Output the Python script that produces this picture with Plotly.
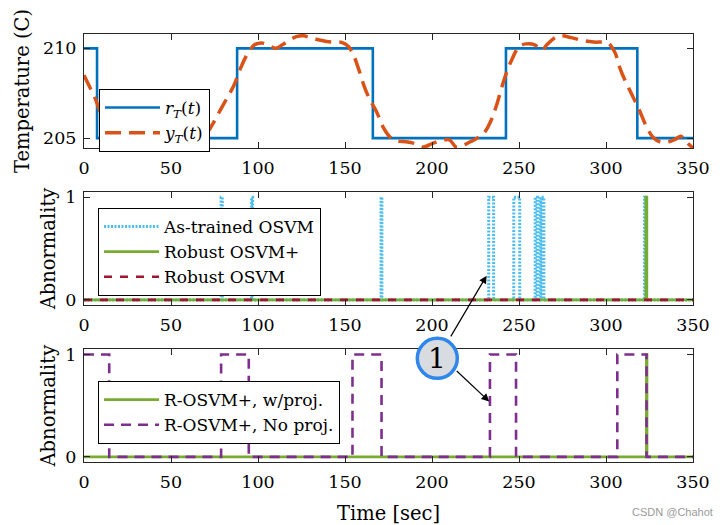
import plotly.graph_objects as go

# ---------------- data ----------------
t_ref = [0, 7.5, 88, 166, 242.5, 318, 350]
r_T = [210, 205, 210, 205, 210, 205, 205]

t_y = [0, 3, 6, 10, 14, 18, 22, 28, 35, 40, 45, 52, 58, 62, 66, 70, 74, 78, 82, 86,
       90, 94, 98, 102, 106, 110, 114, 118, 122, 126, 130, 136, 142, 148, 152, 155,
       158, 161, 164, 168, 172, 176, 180, 185, 190, 195, 200, 205, 210, 214, 218,
       222, 226, 230, 234, 237, 240, 243, 246, 250, 254, 259, 263, 266, 270, 274,
       280, 286, 293, 301, 305, 308, 311, 315, 319, 323, 327, 331, 336, 340, 343,
       346, 350]
y_T = [208.5, 207.9, 207.3, 206.3, 205.5, 205.0, 204.75, 204.6, 204.4, 204.35, 204.4,
       204.5, 204.5, 204.6, 204.85, 205.2, 205.8, 206.5, 207.2, 207.9, 208.9, 209.7,
       210.2, 210.3, 210.2, 210.0, 210.2, 210.45, 210.65, 210.7, 210.6, 210.45, 210.35,
       210.33, 210.1, 209.6, 208.8, 207.9, 207.2, 206.5, 205.6, 205.05, 204.85, 204.8,
       204.7, 204.5, 204.7, 204.85, 204.9, 204.5, 204.6, 204.8, 205.0, 205.3, 206.0,
       206.8, 207.8, 208.7, 209.4, 210.1, 210.25, 210.2, 209.9, 210.2, 210.55, 210.7,
       210.6, 210.45, 210.35, 210.3, 209.8, 208.9, 208.2, 207.4, 206.6, 205.7, 205.05,
       204.8, 204.8, 204.95, 205.1, 204.8, 204.45]

# As-trained OSVM (step changes)
t_astrained = [0, 78.8, 79.5, 96.3, 96.9, 170.7, 171.2, 232.6, 235.4, 247.0, 250.4,
               259.3, 260.4, 261.0, 262.4, 263.0, 264.3, 322.1, 322.7, 350]
a_astrained = [0, 1, 0, 1, 0, 1, 0, 1, 0, 1, 0, 1, 0, 1, 0, 1, 0, 1, 0, 0]

t_robust_plus = [0, 322.9, 323.5, 350]
a_robust_plus = [0, 1, 0, 0]

t_robust = [0, 350]
a_robust = [0, 0]

t_wproj = [0, 323.2, 323.6, 350]
a_wproj = [0, 1, 0, 0]

t_noproj = [0, 14.5, 78.8, 94.7, 154.3, 171.0, 233.3, 248.3, 306.5, 323.3, 350]
a_noproj = [1, 0, 1, 0, 1, 0, 1, 0, 1, 0, 0]

x_ticks = [0, 50, 100, 150, 200, 250, 300, 350]

# ---------------- figure ----------------
SERIF = "DejaVu Serif"
AX = "#262626"
TICK_SIZE = 17.5
TITLE_SIZE = 19.5
LEG_SIZE = 17

fig = go.Figure()

fig.add_trace(go.Scatter(x=t_ref, y=r_T, mode="lines", line_shape="hv",
                         line=dict(color="#0072BD", width=2.6),
                         name="<i>r</i><sub><i>T</i></sub>(<i>t</i>)",
                         xaxis="x", yaxis="y", legend="legend"))
fig.add_trace(go.Scatter(x=t_y, y=y_T, mode="lines", line_shape="spline",
                         line=dict(color="#D95319", width=3.5, dash="16px,8px"),
                         name="<i>y</i><sub><i>T</i></sub>(<i>t</i>)",
                         xaxis="x", yaxis="y", legend="legend"))

fig.add_trace(go.Scatter(x=t_astrained, y=a_astrained, mode="lines", line_shape="hv",
                         line=dict(color="#4DBEEE", width=3, dash="2px,1.5px"),
                         name="As-trained OSVM", xaxis="x2", yaxis="y2", legend="legend2"))
fig.add_trace(go.Scatter(x=t_robust_plus, y=a_robust_plus, mode="lines", line_shape="hv",
                         line=dict(color="#77AC30", width=2.6),
                         name="Robust OSVM+", xaxis="x2", yaxis="y2", legend="legend2"))
fig.add_trace(go.Scatter(x=t_robust, y=a_robust, mode="lines", line_shape="hv",
                         line=dict(color="#A2142F", width=2.6, dash="8px,8px"),
                         name="Robust OSVM", xaxis="x2", yaxis="y2", legend="legend2"))

fig.add_trace(go.Scatter(x=t_wproj, y=a_wproj, mode="lines", line_shape="hv",
                         line=dict(color="#77AC30", width=2.6),
                         name="R-OSVM+, w/proj.", xaxis="x3", yaxis="y3", legend="legend3"))
fig.add_trace(go.Scatter(x=t_noproj, y=a_noproj, mode="lines", line_shape="hv",
                         line=dict(color="#7E2F8E", width=2.6, dash="10px,7px"),
                         name="R-OSVM+, No proj.", xaxis="x3", yaxis="y3", legend="legend3"))

def xax(anchor, title=None):
    d = dict(range=[0, 350], tickvals=x_ticks, ticks="inside", ticklen=6,
             tickcolor=AX, showline=True, linecolor=AX, linewidth=1, mirror="ticks",
             showgrid=False, zeroline=False, anchor=anchor, ticklabelstandoff=4,
             tickfont=dict(family=SERIF, size=TICK_SIZE, color="#000"))
    if title:
        d["title"] = dict(text=title, font=dict(family=SERIF, size=TITLE_SIZE, color="#000"),
                          standoff=17)
        d["automargin"] = False
    return d

def yax(anchor, dom, rng, tv, title, standoff):
    return dict(domain=dom, range=rng, tickvals=tv, ticks="inside", ticklen=6,
                tickcolor=AX, showline=True, linecolor=AX, linewidth=1, mirror="ticks",
                showgrid=False, zeroline=False, anchor=anchor, ticklabelstandoff=3,
                tickfont=dict(family=SERIF, size=TICK_SIZE, color="#000"),
                title=dict(text=title, font=dict(family=SERIF, size=TITLE_SIZE, color="#000"),
                           standoff=standoff))

leg_common = dict(bgcolor="white", bordercolor="#000", borderwidth=1,
                  font=dict(family=SERIF, size=LEG_SIZE, color="#000"),
                  xanchor="left", yanchor="top", itemwidth=55,
                  tracegroupgap=0)

# page body has an 8px default margin, so the figure is sized 8px smaller
fig.update_layout(
    width=715, height=517,
    margin=dict(l=76, r=30, t=26, b=63),
    paper_bgcolor="white", plot_bgcolor="white",
    xaxis=xax("y"), xaxis2=xax("y2"), xaxis3=xax("y3", "Time [sec]"),
    yaxis=yax("x", [0.7336, 1.0], [204.45, 210.8], [205, 210], "Temperature (C)", 8),
    yaxis2=yax("x2", [0.3668, 0.6308], [-0.05, 1.05], [0, 1], "Abnormality", 4),
    yaxis3=yax("x3", [0.0, 0.2633], [-0.05, 1.05], [0, 1], "Abnormality", 4),
    legend=dict(x=0.0246, y=0.8715, **leg_common),
    legend2=dict(x=0.023, y=0.5935, **leg_common),
    legend3=dict(x=0.023, y=0.189, **leg_common),
)

# annotation circle "1"
fig.add_shape(type="circle", xref="paper", yref="paper",
              x0=0.5473, x1=0.6130, y0=0.1956, y1=0.2890,
              line=dict(color="#2F86EB", width=3.5), fillcolor="#D8DBE0", layer="above")
fig.add_annotation(xref="paper", yref="paper", x=0.5801, y=0.2423, text="1",
                   xanchor="center", yanchor="middle", showarrow=False,
                   font=dict(family=SERIF, size=28, color="#000"))

# arrows
fig.add_annotation(xref="x2", yref="y2", x=231.4, y=0.236, text="", showarrow=True,
                   ax=-36.7, ay=62.3, arrowhead=2, arrowsize=1.3, arrowwidth=1.2,
                   arrowcolor="#000", standoff=0)
fig.add_annotation(xref="x3", yref="y3", x=232.9, y=0.54, text="", showarrow=True,
                   ax=-34, ay=-32, arrowhead=2, arrowsize=1.3, arrowwidth=1.2,
                   arrowcolor="#000", standoff=0)

fig.add_annotation(xref="paper", yref="paper", x=1.036, y=-0.117, text="CSDN @Chahot",
                   showarrow=False, xanchor="right", yanchor="middle",
                   font=dict(family="Liberation Sans", size=11, color="#9a9a9a"))

fig.write_html("out.html")
